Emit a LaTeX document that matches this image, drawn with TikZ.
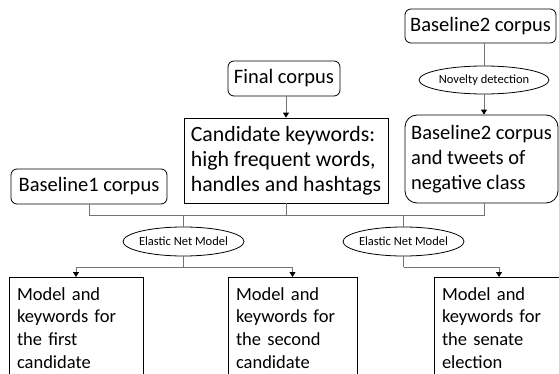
\documentclass[tikz,border=0pt]{standalone}
\usepackage{fontspec}
\setmainfont{Carlito}
\usetikzlibrary{arrows.meta,shapes.geometric}
\begin{document}
\begin{tikzpicture}[x=1pt,y=-1pt,
 rbox/.style={draw,rounded corners=6pt,line width=0.8pt,inner sep=2pt,font=\fontsize{20.5}{25}\selectfont,align=left},
 sbox/.style={draw,line width=0.8pt,inner sep=2pt,font=\fontsize{21.8}{25}\selectfont,align=left},
 mbox/.style={draw,line width=0.8pt,anchor=north,align=left,inner xsep=8pt,inner ysep=10pt,font=\fontsize{18.5}{22.7}\selectfont},
 oval/.style={draw,ellipse,line width=0.8pt,inner sep=0pt,font=\fontsize{12.5}{14}\selectfont},
 conn/.style={draw=black!55,line width=0.9pt},
 arr/.style={conn,-{Triangle[length=5pt,width=6pt,color=black]}}]
\useasboundingbox (0,0) rectangle (559,374);
\clip (0,0) rectangle (559,374);
\node[rbox,minimum width=112pt,minimum height=35pt] (final) at (284,78.5) {Final corpus};
\node[sbox,minimum width=204pt,minimum height=85pt] (cand) at (286,160.5) {Candidate keywords:\\high frequent words,\\handles and hashtags};
\node[rbox,minimum width=156pt,minimum height=35pt] (b1) at (89,186.5) {Baseline1 corpus};
\node[rbox,minimum width=151pt,minimum height=34pt] (b2) at (480.5,26) {Baseline2 corpus};
\node[oval,minimum width=130pt,minimum height=28pt] (nov) at (484,80) {\makebox[0pt]{Novelty detection}};
\node[rbox,rounded corners=12pt,minimum width=153pt,minimum height=88pt] (neg) at (481.5,159) {Baseline2 corpus\\and tweets of\\negative class};
\node[oval,minimum width=121pt,minimum height=29pt] (en1) at (183.5,241.5) {\makebox[0pt]{Elastic Net Model}};
\node[oval,minimum width=121pt,minimum height=29pt] (en2) at (403.5,241.5) {\makebox[0pt]{Elastic Net Model}};
\node[mbox,text width=118pt] (m1) at (76,277) {Model and\\keywords for\\the first\\candidate};
\node[mbox,text width=113pt] (m2) at (292.5,277) {Model and\\keywords for\\the second\\candidate};
\node[mbox,text width=114pt] (m3) at (499,277) {Model and\\keywords for\\the senate\\election};
\coordinate (hy) at (0,215);
\coordinate (ky) at (0,267);
\draw[conn] (b1.south) -- (b1.south |- hy) -- (nov.south |- hy) -- (nov.south |- neg.south);
\draw[conn] (cand.south) -- (cand.south |- hy);
\draw[conn] (en1.north |- hy) -- (en1.north);
\draw[conn] (en2.north |- hy) -- (en2.north);
\draw[conn] (en1.south) -- (en1.south |- ky);
\draw[arr] (en1.south |- ky) -| (m1.north);
\draw[arr] (en1.south |- ky) -| (m2.north);
\draw[conn] (en2.south) -- (en2.south |- ky);
\draw[arr] (en2.south |- ky) -| (m3.north);
\draw[arr] (cand.north |- final.south) -- (cand.north);
\draw[conn] (nov.north |- b2.south) -- (nov.north);
\draw[arr] (nov.south) -- (nov.south |- neg.north);
\end{tikzpicture}
\end{document}
